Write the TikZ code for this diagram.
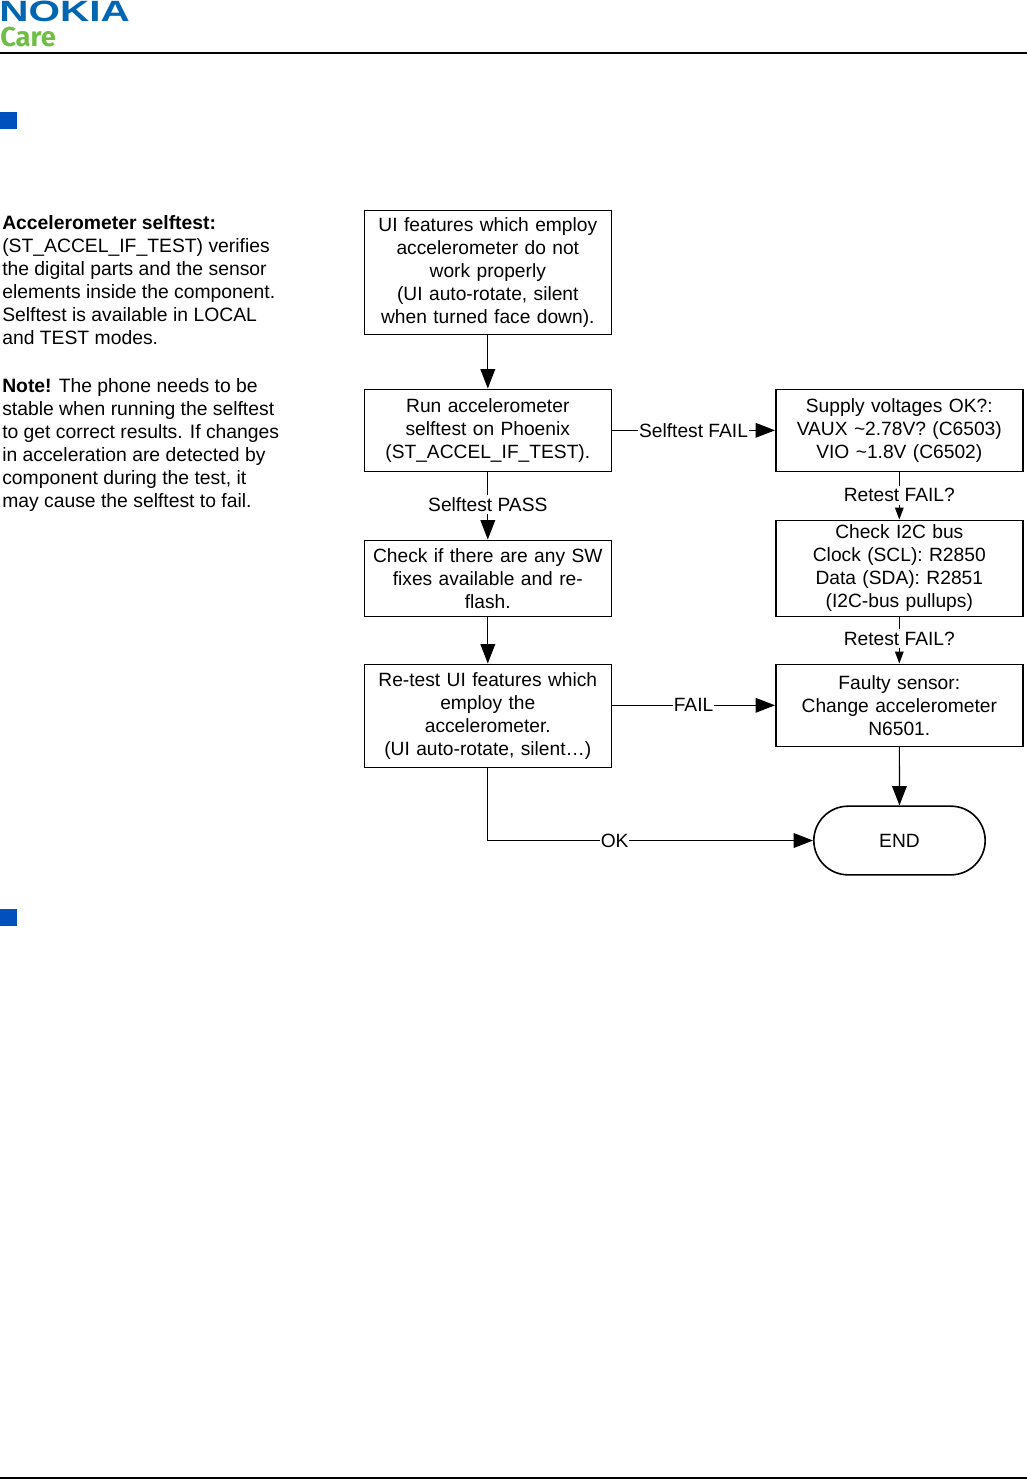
\documentclass[tikz,border=0pt]{standalone}
\usepackage{fontspec}
\setmainfont{Liberation Sans}
\newfontfamily\carefont{Fira Sans}
\usetikzlibrary{arrows.meta,shapes.misc}
\definecolor{nokiablue}{RGB}{0,102,178}
\definecolor{careg}{RGB}{112,190,70}
\definecolor{headblue}{RGB}{0,80,190}
\tikzset{
  x=0.75pt,y=-0.75pt,
  txt/.style={font=\fontsize{14.4pt}{17.25pt}\selectfont,align=center,inner sep=0pt},
  flowbox/.style={draw=black,line width=1.2pt,txt,anchor=north west,minimum width=185.25pt,text width=180pt},
  lbl/.style={txt,fill=white,inner xsep=0.6pt,inner ysep=2pt},
  conn/.style={draw=black,line width=0.9pt,-{Triangle[length=14.5pt,width=11pt]}},
  connsmall/.style={draw=black,line width=0.9pt,-{Triangle[length=9pt,width=6.5pt]}},
  side/.style={font=\fontsize{14.5pt}{17.25pt}\selectfont,align=left,anchor=north west,inner sep=0pt},
  bullet/.style={fill=headblue,inner sep=0pt,minimum width=12.75pt,minimum height=12.75pt,anchor=north west},
  rule/.style={draw=black,line width=1.1pt}
}
\begin{document}
\begin{tikzpicture}
\useasboundingbox (0,0) rectangle (1027,1479);
% header
\node[anchor=north west,inner sep=0pt,text=nokiablue,font=\fontsize{22pt}{22pt}\bfseries\selectfont,xscale=1.38] (nokia) at (-1,0.5) {NOKIA};
\node[anchor=north west,inner sep=0pt,text=careg,font=\carefont\fontsize{20.5pt}{21pt}\bfseries\selectfont] (care) at (0,26.5) {Care};
\coordinate (hl) at (0,53); \coordinate (hr) at (1027,53);
\draw[rule] (hl) -- (hr);
\coordinate (fl) at (0,1478); \coordinate (fr) at (1027,1478);
\draw[rule] (fl) -- (fr);
\node[bullet] (b1sq) at (0,112) {};
\node[bullet] (b2sq) at (0,908.5) {};
% side text
\node[side] (sideA) at (2,215) {\textbf{Accelerometer selftest:}\\(ST\_ACCEL\_IF\_TEST) verifies\\the digital parts and the sensor\\elements inside the component.\\Selftest is available in LOCAL\\and TEST modes.};
\node[side] (sideB) at (2,378.5) {\textbf{Note!} The phone needs to be\\stable when running the selftest\\to get correct results. If changes\\in acceleration are detected by\\component during the test, it\\may cause the selftest to fail.};
% boxes
\node[flowbox,minimum height=93pt] (n1) at (363.5,209.5) {UI features which employ\\accelerometer do not\\work properly\\(UI auto-rotate, silent\\when turned face down).};
\node[flowbox,minimum height=61.5pt] (n2) at (363.5,388.5) {Run accelerometer\\selftest on Phoenix\\(ST\_ACCEL\_IF\_TEST).};
\node[flowbox,minimum height=57pt] (n3) at (363.5,539.5) {Check if there are any SW\\fixes available and re-\\flash.};
\node[flowbox,minimum height=77.25pt] (n4) at (363.5,663.5) {Re-test UI features which\\employ the\\accelerometer.\\(UI auto-rotate, silent\ldots)};
\node[flowbox,minimum height=61.5pt] (r1) at (775,388.5) {Supply voltages OK?:\\VAUX \textasciitilde2.78V? (C6503)\\VIO \textasciitilde1.8V (C6502)};
\node[flowbox,minimum height=72pt] (r2) at (775,519.5) {Check I2C bus\\Clock (SCL): R2850\\Data (SDA): R2851\\(I2C-bus pullups)};
\node[flowbox,minimum height=61.5pt] (r3) at (775,663.5) {Faulty sensor:\\Change accelerometer\\N6501.};
\node[draw=black,line width=1.2pt,txt,rounded rectangle,minimum width=128.5pt,minimum height=51.5pt,anchor=center] (endn) at (899.5,840.5) {END};
% connectors
\draw[conn] (n1) -- (n2);
\draw[conn] (n2) -- node[lbl,pos=0.48] (l1) {Selftest PASS} (n3);
\draw[conn] (n3) -- (n4);
\draw[conn] (n2) -- node[lbl,pos=0.5] (l2) {Selftest FAIL} (n2-|r1.west);
\draw[connsmall] (r1) -- node[lbl,pos=0.49] (l3) {Retest FAIL?} (r2);
\draw[connsmall] (r2) -- node[lbl,pos=0.47] (l4) {Retest FAIL?} (r3);
\draw[conn] (n4.east|-r3) -- node[lbl,pos=0.5] (l5) {FAIL} (r3);
\draw[conn] (r3) -- (endn);
\draw[conn] (n4) |- node[lbl,pos=0.695] (l6) {OK} (endn);
\end{tikzpicture}
\end{document}
